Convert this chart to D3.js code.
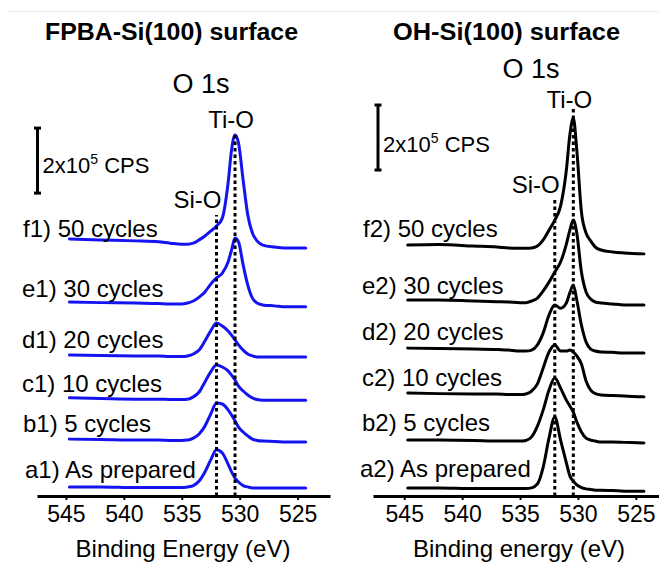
<!DOCTYPE html>
<html>
<head>
<meta charset="utf-8">
<script src="https://cdn.jsdelivr.net/npm/d3@7"></script>
<style>
  body { margin: 0; background: #fff; }
  svg { display: block; }
  text { font-family: "Liberation Sans", Arial, sans-serif; fill: #000; }
</style>
</head>
<body>
<svg id="chart" width="659" height="565"></svg>
<script>
// Binding energy grid (eV), high -> low
const energies = [544.7, 542, 539, 537, 536, 535, 534.5, 534, 533.5, 533, 532.5, 532, 531.5, 531, 530.7, 530.4, 530.1, 529.7, 529.3, 528.9, 528.5, 528, 527, 526, 524.3];

// Offset-stacked O 1s intensities, units of 1e4 CPS
// FPBA-Si(100) surface
const fpba_a1 = [2.8, 2.8, 2.6, 2.6, 2.6, 2.6, 2.8, 3.2, 4.6, 7.4, 11.1, 14.2, 13.2, 9.8, 7.4, 5.5, 4.3, 3.2, 2.8, 2.5, 2.5, 2.5, 2.5, 2.5, 2.5];
const fpba_b1 = [17.5, 17.4, 17.2, 17.2, 17.1, 17.1, 17.2, 17.8, 19.1, 21.5, 25.2, 28.6, 28.3, 26.5, 24.9, 23.1, 21.2, 19.7, 18.5, 17.5, 17.1, 16.9, 16.8, 16.6, 16.6];
const fpba_c1 = [30.2, 30.0, 29.8, 29.8, 29.7, 29.7, 29.8, 30.5, 32.0, 35.1, 38.2, 40.3, 39.7, 38.5, 37.2, 35.7, 33.8, 32.3, 31.1, 30.2, 29.7, 29.5, 29.5, 29.5, 29.5];
const fpba_d1 = [43.4, 43.2, 43.1, 43.1, 42.9, 42.9, 43.1, 43.7, 44.9, 47.7, 50.8, 53.2, 52.3, 50.8, 49.5, 48.0, 46.5, 44.9, 43.7, 43.1, 42.8, 42.8, 42.8, 42.8, 42.8];
const fpba_e1 = [59.7, 59.5, 59.4, 59.2, 59.1, 59.1, 59.4, 60.0, 61.2, 62.8, 65.2, 67.1, 68.6, 72.0, 75.7, 79.4, 78.2, 71.1, 64.9, 60.9, 59.4, 58.8, 58.5, 58.2, 58.2];
const fpba_f1 = [79.1, 78.8, 78.5, 78.2, 77.8, 77.5, 77.5, 77.8, 78.8, 80.0, 81.5, 83.1, 85.5, 96.3, 106.5, 111.1, 108.6, 97.2, 86.5, 80.9, 78.5, 77.2, 76.6, 76.3, 76.3];
// OH-Si(100) surface
const oh_a2 = [2.5, 2.5, 2.3, 2.3, 2.3, 2.3, 2.3, 2.5, 3.7, 8.9, 17.8, 24.3, 17.2, 10.2, 6.2, 4.6, 3.4, 2.6, 2.2, 2.0, 1.8, 1.8, 1.7, 1.5, 1.5];
const oh_b2 = [17.2, 17.2, 17.1, 16.9, 16.9, 16.9, 17.1, 18.2, 21.5, 26.5, 32.6, 36.3, 33.2, 29.5, 27.7, 25.8, 22.8, 19.7, 17.8, 17.2, 16.9, 16.6, 16.6, 16.5, 16.3];
const oh_c2 = [31.7, 31.5, 31.4, 31.4, 31.2, 31.2, 31.4, 32.3, 34.5, 39.4, 44.3, 46.5, 44.6, 44.6, 44.9, 44.3, 43.1, 40.6, 35.4, 32.6, 31.5, 31.1, 30.9, 30.8, 30.5];
const oh_d2 = [45.5, 45.4, 45.2, 45.1, 44.9, 44.6, 44.6, 44.9, 46.5, 50.2, 55.7, 58.8, 57.8, 59.4, 62.5, 64.9, 60.3, 52.6, 47.4, 45.2, 44.6, 44.3, 44.2, 44.0, 44.0];
const oh_e2 = [60.3, 60.3, 60.0, 59.8, 59.7, 59.5, 59.5, 60.0, 60.9, 63.1, 65.8, 68.9, 72.0, 77.5, 81.8, 84.9, 80.9, 68.9, 62.8, 60.6, 59.7, 59.4, 59.1, 58.8, 58.8];
const oh_f2 = [77.2, 77.4, 76.9, 76.6, 76.3, 76.2, 76.2, 76.3, 76.9, 78.8, 81.8, 84.9, 89.2, 100.3, 111.1, 116.3, 106.5, 87.4, 80.9, 78.5, 76.6, 75.7, 75.1, 74.8, 74.5];

const labels1 = ["a1) As prepared", "b1) 5 cycles", "c1) 10 cycles", "d1) 20 cycles", "e1) 30 cycles", "f1) 50 cycles"];
const labels2 = ["a2) As prepared", "b2) 5 cycles", "c2) 10 cycles", "d2) 20 cycles", "e2) 30 cycles", "f2) 50 cycles"];
const tickValues = [545, 540, 535, 530, 525];
const refEnergies = [532.0, 530.4];          // Si-O, Ti-O
const refNames = ["Si-O", "Ti-O"];
const refTops1 = [86.5, 111.1];               // top of dotted lines (1e4 CPS)
const refTops2 = [92.0, 119.4];
const scaleBarValue = 20;                      // 2x10^5 CPS in 1e4 CPS units

const svg = d3.select("#chart");
svg.append("line").attr("x1", 8).attr("x2", 659).attr("y1", 11.5).attr("y2", 11.5)
  .attr("stroke", "#ececec").attr("stroke-width", 1);

const y = d3.scaleLinear().domain([0, 140]).range([496, 496 - 140 * 3.25]);

function panel(cfg) {
  const x = d3.scaleLinear().domain(cfg.domain).range(cfg.range);
  const g = svg.append("g");
  const line = d3.line().x((d, i) => x(energies[i])).y(d => y(d)).curve(d3.curveMonotoneX);

  // spectra
  g.selectAll("path.spec").data(cfg.series).join("path")
    .attr("class", "spec")
    .attr("d", d => line(d))
    .attr("fill", "none").attr("stroke", cfg.color).attr("stroke-width", 3)
    .attr("stroke-linejoin", "round").attr("stroke-linecap", "round");

  // dotted reference lines
  g.selectAll("line.ref").data(refEnergies).join("line")
    .attr("class", "ref")
    .attr("x1", d => x(d)).attr("x2", d => x(d))
    .attr("y1", y(0)).attr("y2", (d, i) => y(cfg.refTops[i]))
    .attr("stroke", "#000").attr("stroke-width", 3).attr("stroke-dasharray", "3.5,3");

  // axis
  const ax = g.append("g").attr("transform", `translate(0,${y(0)})`)
    .call(d3.axisBottom(x).tickValues(tickValues).tickSize(4).tickSizeOuter(0).tickPadding(6).tickFormat(d3.format("d")));
  ax.select(".domain").attr("stroke", "#000").attr("stroke-width", 3);
  ax.selectAll(".tick line").attr("stroke", "#000").attr("stroke-width", 2);
  ax.selectAll(".tick text").attr("font-size", 23).attr("font-family", "Liberation Sans, Arial, sans-serif").attr("fill", "#000");
  ax.attr("font-size", 23);

  // axis title
  g.append("text").attr("x", cfg.titleX).attr("y", 557).attr("text-anchor", "middle")
    .attr("font-size", 24).text(cfg.xTitle);

  // panel title
  g.append("text").attr("x", cfg.headX).attr("y", 40).attr("text-anchor", "middle")
    .attr("font-family", "Lato, 'Open Sans', sans-serif").attr("font-weight", "bold")
    .attr("font-size", 23).attr("textLength", cfg.headW).attr("lengthAdjust", "spacingAndGlyphs")
    .text(cfg.head);

  // O 1s
  g.append("text").attr("x", cfg.o1sX).attr("y", cfg.o1sY).attr("text-anchor", "middle")
    .attr("font-size", 27).text("O 1s");

  // reference labels
  g.append("text").attr("x", x(refEnergies[0]) + 5).attr("y", cfg.siY).attr("text-anchor", "end")
    .attr("font-size", 24).text(refNames[0]);
  g.append("text").attr("x", x(refEnergies[1]) - 4).attr("y", cfg.tiY).attr("text-anchor", "middle")
    .attr("font-size", 24).text(refNames[1]);

  // series labels
  g.selectAll("text.lab").data(cfg.labels).join("text")
    .attr("class", "lab")
    .attr("x", (d, i) => cfg.labX[i]).attr("y", (d, i) => cfg.labY[i])
    .attr("font-size", 24).text(d => d);

  // scale bar
  const sb = g.append("g").attr("stroke", "#000").attr("stroke-width", 3);
  const yb = y(cfg.barBase), yt = y(cfg.barBase + scaleBarValue);
  sb.append("line").attr("x1", cfg.barX).attr("x2", cfg.barX).attr("y1", yb).attr("y2", yt);
  sb.append("line").attr("x1", cfg.barX - 3.5).attr("x2", cfg.barX + 3.5).attr("y1", yb).attr("y2", yb);
  sb.append("line").attr("x1", cfg.barX - 3.5).attr("x2", cfg.barX + 3.5).attr("y1", yt).attr("y2", yt);
  const st = g.append("text").attr("x", cfg.barX + 5).attr("y", cfg.barTextY).attr("font-size", 22);
  st.append("tspan").text("2x10");
  st.append("tspan").attr("font-size", 14).attr("dy", -9).text("5");
  st.append("tspan").attr("dy", 9).text(" CPS");
}

panel({
  domain: [547.5, 522.2], range: [37, 330], color: "#1414f0",
  series: [fpba_a1, fpba_b1, fpba_c1, fpba_d1, fpba_e1, fpba_f1],
  refTops: refTops1, labels: labels1,
  labX: [25, 23, 22, 22, 22, 23], labY: [478, 432, 392, 348, 297, 237],
  xTitle: "Binding Energy (eV)", titleX: 183,
  head: "FPBA-Si(100) surface", headX: 171.5, headW: 253,
  o1sX: 201, o1sY: 93, siY: 208, tiY: 128,
  barX: 37.5, barBase: 93.2, barTextY: 173
});

panel({
  domain: [547.7, 523.0], range: [373, 659], color: "#000",
  series: [oh_a2, oh_b2, oh_c2, oh_d2, oh_e2, oh_f2],
  refTops: refTops2, labels: labels2,
  labX: [360, 362, 362, 362, 362, 363], labY: [477, 431, 386, 340, 294, 237],
  xTitle: "Binding energy (eV)", titleX: 519,
  head: "OH-Si(100) surface", headX: 506.5, headW: 227,
  o1sX: 531, o1sY: 78, siY: 193, tiY: 108,
  barX: 378, barBase: 100.3, barTextY: 152
});
</script>
</body>
</html>
